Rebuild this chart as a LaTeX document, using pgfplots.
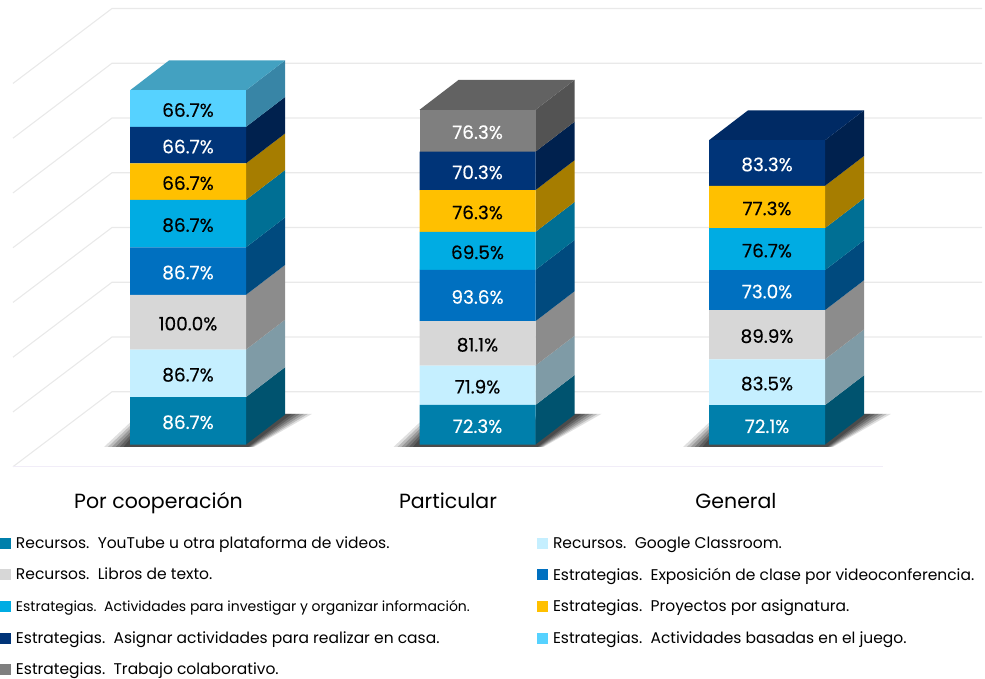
\documentclass[border=0pt]{standalone}
\usepackage{fontspec}
\setmainfont{Poppins}
\newfontfamily\labfont[FakeBold=0.25]{Poppins}
\usepackage{pgfplots}
\pgfplotsset{compat=1.18}

\definecolor{cYt}{HTML}{007FAB}  \definecolor{sYt}{HTML}{00536F}
\definecolor{cGc}{HTML}{C5EFFF}  \definecolor{sGc}{HTML}{7F9BA6}
\definecolor{cLi}{HTML}{D7D7D7}  \definecolor{sLi}{HTML}{8C8C8C}
\definecolor{cEx}{HTML}{0070C0}  \definecolor{sEx}{HTML}{004A7E}
\definecolor{cIn}{HTML}{00ACE3}  \definecolor{sIn}{HTML}{006F94}
\definecolor{cPr}{HTML}{FFC000}  \definecolor{sPr}{HTML}{A67D00}
\definecolor{cAs}{HTML}{003478}  \definecolor{sAs}{HTML}{00214E}
\definecolor{cJu}{HTML}{56D2FF}  \definecolor{sJu}{HTML}{3885A6}  \definecolor{tJu}{HTML}{43A1C1}
\definecolor{cTr}{HTML}{7F7F7F}  \definecolor{sTr}{HTML}{535353}  \definecolor{tTr}{HTML}{626262}
\definecolor{tAs}{HTML}{002A64}
\definecolor{gridc}{HTML}{E9E9E9}
\definecolor{floorc}{HTML}{F1EDF8}

\pgfplotsset{
  frame/.style={
    at={(0pt,212.3pt)}, anchor=south west,
    width=985pt, height=466.7pt, scale only axis,
    xmin=0, xmax=985, ymin=-40.5, ymax=811.9,
    clip=false,
  },
  wall/.style={gridc, line width=1.1pt, forget plot},
}

% side face of one segment: left x of bar, base, value, colour
\newcommand{\sideface}[4]{%
  \pgfmathsetmacro\xa{#1+116}\pgfmathsetmacro\xb{#1+155}%
  \pgfmathsetmacro\ya{#2}\pgfmathsetmacro\yb{#2+#3}%
  \pgfmathsetmacro\yc{#2+#3+54.5}\pgfmathsetmacro\yd{#2+54.5}%
  \addplot[fill=#4, draw=none, forget plot] coordinates {(\xa,\ya) (\xa,\yb) (\xb,\yc) (\xb,\yd)} -- cycle;
}
\newcommand{\topface}[3]{%
  \pgfmathsetmacro\xa{#1+39}\pgfmathsetmacro\xb{#1+155}\pgfmathsetmacro\xc{#1+116}%
  \pgfmathsetmacro\yb{#2+54.5}%
  \addplot[fill=#3, draw=none, forget plot] coordinates {(#1,#2) (\xa,\yb) (\xb,\yb) (\xc,#2)} -- cycle;
}
% one layer of the soft shadow: left x of bar, spread, opacity
\newcommand{\shadowlayer}[3]{%
  \pgfmathsetmacro\xa{#1-26*#2}\pgfmathsetmacro\yb{40*#2}%
  \pgfmathsetmacro\xc{#1+155}\pgfmathsetmacro\xd{#1+155+27*#2}\pgfmathsetmacro\xe{#1+116+8*#2}%
  \addplot[fill=black, draw=none, opacity=#3, forget plot]
    coordinates {(\xa,-4.5) (#1,\yb) (\xc,56) (\xd,56) (\xe,-4.5)} -- cycle;
}
\newcommand{\barshadow}[1]{%
  \shadowlayer{#1}{1}{0.12}%
  \shadowlayer{#1}{0.85}{0.16}%
  \shadowlayer{#1}{0.7}{0.18}%
  \shadowlayer{#1}{0.55}{0.2}%
  \shadowlayer{#1}{0.4}{0.22}%
  \shadowlayer{#1}{0.25}{0.22}%
}
% value label: centre x, base, value, text colour
\newcommand{\seglabel}[4]{%
  \pgfmathsetmacro\ymid{#2+#3/2}%
  \edef\tmp{\noexpand\node[text=#4, font=\noexpand\labfont\noexpand\fontsize{18.5}{18.5}\noexpand\selectfont, inner sep=0pt, yshift=-1.5pt]
    at (axis cs:#1,\ymid) {#3\noexpand\%};}\tmp
}
\newcommand{\lgleft}[2]{\makebox[521pt][l]{\fontsize{#1}{#1}\selectfont #2}}
\newcommand{\lgright}[1]{\makebox[432pt][l]{\fontsize{15.5}{15.5}\selectfont #1}}

\begin{document}
\begin{tikzpicture}
\useasboundingbox (0,0) rectangle (985pt,679pt);

% back: wall grid, floor, shadows, side and top faces
\begin{axis}[frame, hide axis]
\addplot[wall] coordinates {(13,-40.5) (112,96.4) (982,96.4)};
\addplot[wall] coordinates {(13,59.5) (112,196.4) (982,196.4)};
\addplot[wall] coordinates {(13,159.5) (112,296.4) (982,296.4)};
\addplot[wall] coordinates {(13,259.5) (112,396.4) (982,396.4)};
\addplot[wall] coordinates {(13,359.5) (112,496.4) (982,496.4)};
\addplot[wall] coordinates {(13,459.5) (112,596.4) (982,596.4)};
\addplot[wall] coordinates {(13,559.5) (112,696.4) (982,696.4)};
\addplot[wall] coordinates {(13,659.5) (112,796.4) (982,796.4)};
\addplot[floorc, line width=1.3pt, forget plot] coordinates {(13,-40.5) (883,-40.5)};

\barshadow{130}
\barshadow{419.5}
\barshadow{709}

\sideface{130}{0}{86.7}{sYt}
\sideface{130}{86.7}{86.7}{sGc}
\sideface{130}{173.4}{100.0}{sLi}
\sideface{130}{273.4}{86.7}{sEx}
\sideface{130}{360.1}{86.7}{sIn}
\sideface{130}{446.8}{66.7}{sPr}
\sideface{130}{513.5}{66.7}{sAs}
\sideface{130}{580.2}{66.7}{sJu}
\topface{130}{646.9}{tJu}

\sideface{419.5}{0}{72.3}{sYt}
\sideface{419.5}{72.3}{71.9}{sGc}
\sideface{419.5}{144.2}{81.1}{sLi}
\sideface{419.5}{225.3}{93.6}{sEx}
\sideface{419.5}{318.9}{69.5}{sIn}
\sideface{419.5}{388.4}{76.3}{sPr}
\sideface{419.5}{464.7}{70.3}{sAs}
\sideface{419.5}{535.0}{76.3}{sTr}
\topface{419.5}{611.3}{tTr}

\sideface{709}{0}{72.1}{sYt}
\sideface{709}{72.1}{83.5}{sGc}
\sideface{709}{155.6}{89.9}{sLi}
\sideface{709}{245.5}{73.0}{sEx}
\sideface{709}{318.5}{76.7}{sIn}
\sideface{709}{395.2}{77.3}{sPr}
\sideface{709}{472.5}{83.3}{sAs}
\topface{709}{555.8}{tAs}
\end{axis}

% front: stacked bars, category ticks, legend
\begin{axis}[
  frame,
  ybar stacked,
  bar width=116,
  axis line style={draw=none},
  tick style={draw=none},
  ytick=\empty,
  xtick={158.5,448,736},
  xticklabels={Por cooperación, Particular, General},
  x tick label style={font=\fontsize{20.5}{20.5}\selectfont, anchor=center, yshift=-37pt, inner sep=0pt, text height=15pt, text depth=5pt},
  major tick length=0pt,
  legend cell align=left,
  legend columns=2,
  legend image code/.code={%
    \path[draw=none, fill=none] (5pt,-15.8pt) -- (5pt,15.8pt);
    \fill[#1] (0pt,-5.5pt) rectangle (11pt,5.5pt);},
  legend style={
    at={(axis cs:0,-151.4)}, anchor=north west,
    draw=none, fill=none, inner sep=0pt, outer sep=0pt,
    row sep=0pt, column sep=0pt,
    nodes={inner sep=0pt, outer sep=0pt},
    /tikz/every odd column/.append style={column sep=5pt},
  },
]
\addplot[fill=cYt, draw=none] coordinates {(188,86.7) (477.5,72.3) (767,72.1)};
\addlegendentry{\lgleft{15.5}{Recursos.\ \ YouTube u otra plataforma de videos.}}
\addplot[fill=cGc, draw=none] coordinates {(188,86.7) (477.5,71.9) (767,83.5)};
\addlegendentry{\lgright{Recursos.\ \ Google Classroom.}}
\addplot[fill=cLi, draw=none] coordinates {(188,100.0) (477.5,81.1) (767,89.9)};
\addlegendentry{\lgleft{15.5}{Recursos.\ \ Libros de texto.}}
\addplot[fill=cEx, draw=none] coordinates {(188,86.7) (477.5,93.6) (767,73.0)};
\addlegendentry{\lgright{Estrategias.\ \ Exposición de clase por videoconferencia.}}
\addplot[fill=cIn, draw=none] coordinates {(188,86.7) (477.5,69.5) (767,76.7)};
\addlegendentry{\lgleft{14}{Estrategias.\ \ Actividades para investigar y organizar información.}}
\addplot[fill=cPr, draw=none] coordinates {(188,66.7) (477.5,76.3) (767,77.3)};
\addlegendentry{\lgright{Estrategias.\ \ Proyectos por asignatura.}}
\addplot[fill=cAs, draw=none] coordinates {(188,66.7) (477.5,70.3) (767,83.3)};
\addlegendentry{\lgleft{15.5}{Estrategias.\ \ Asignar actividades para realizar en casa.}}
\addplot[fill=cJu, draw=none] coordinates {(188,66.7) (477.5,0) (767,0)};
\addlegendentry{\lgright{Estrategias.\ \ Actividades basadas en el juego.}}
\addplot[fill=cTr, draw=none] coordinates {(188,0) (477.5,76.3) (767,0)};
\addlegendentry{\lgleft{15.5}{Estrategias.\ \ Trabajo colaborativo.}}
\end{axis}

% value labels go last, stacked bars are drawn at the end of their axis
\begin{axis}[frame, hide axis]
\seglabel{188}{0}{86.7}{white}
\seglabel{188}{86.7}{86.7}{black}
\seglabel{188}{173.4}{100.0}{black}
\seglabel{188}{273.4}{86.7}{white}
\seglabel{188}{360.1}{86.7}{black}
\seglabel{188}{446.8}{66.7}{black}
\seglabel{188}{513.5}{66.7}{white}
\seglabel{188}{580.2}{66.7}{black}

\seglabel{477.5}{0}{72.3}{white}
\seglabel{477.5}{72.3}{71.9}{black}
\seglabel{477.5}{144.2}{81.1}{black}
\seglabel{477.5}{225.3}{93.6}{white}
\seglabel{477.5}{318.9}{69.5}{black}
\seglabel{477.5}{388.4}{76.3}{black}
\seglabel{477.5}{464.7}{70.3}{white}
\seglabel{477.5}{535.0}{76.3}{white}

\seglabel{767}{0}{72.1}{white}
\seglabel{767}{72.1}{83.5}{black}
\seglabel{767}{155.6}{89.9}{black}
\seglabel{767}{245.5}{73.0}{white}
\seglabel{767}{318.5}{76.7}{black}
\seglabel{767}{395.2}{77.3}{black}
\seglabel{767}{472.5}{83.3}{white}
\end{axis}
\end{tikzpicture}
\end{document}
